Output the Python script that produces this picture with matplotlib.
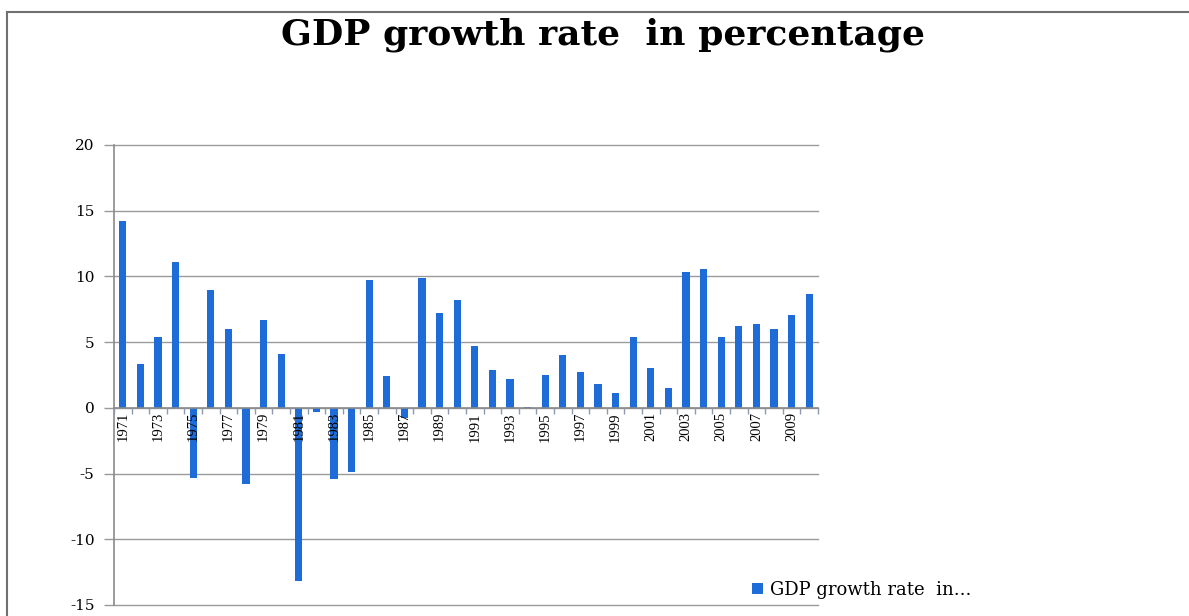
import numpy as np
import matplotlib
matplotlib.use('Agg')
import matplotlib.pyplot as plt
from matplotlib.lines import Line2D

# Dados. ======================================================================

years = list(range(1971, 2011))
growth = [14.2, 3.3, 5.4, 11.1, -5.3, 9.0, 6.0, -5.8, 6.7, 4.1,
          -13.2, -0.3, -5.4, -4.9, 9.7, 2.4, -0.8, 9.9, 7.2, 8.2,
          4.7, 2.9, 2.2, 0.1, 2.5, 4.0, 2.7, 1.8, 1.1, 5.4,
          3.0, 1.5, 10.3, 10.6, 5.4, 6.2, 6.4, 6.0, 7.1, 8.7]
yTicks = [-15, -10, -5, 0, 5, 10, 15, 20]
title = 'GDP growth rate  in percentage'
legendLabel = 'GDP growth rate  in...'

barColor = '#1d6cd8'
gridColor = '#9a9a9a'

# Figura. =====================================================================

W, H = 1189, 616
fig = plt.figure(figsize=(W / 100, H / 100), dpi=100)
fig.set_facecolor('w')

ax = fig.add_axes([114 / W, 1 - 605 / H, (818 - 114) / W, (605 - 145) / H])

x = np.arange(len(years))
bars = ax.bar(x, growth, width=0.42, color=barColor, zorder=3)

ax.set_xlim(-0.5, len(years) - 0.5)
ax.set_ylim(-15, 20)

# Eixo y e linhas de grade.
ax.set_yticks(yTicks)
ax.set_yticklabels([str(v) for v in yTicks], family='DejaVu Serif', fontsize=11)
ax.yaxis.grid(True, color=gridColor, linewidth=1)
for g in ax.yaxis.get_gridlines():
    g.set_clip_on(False)
ax.tick_params(axis='y', length=7, width=1, color=gridColor, pad=7)

for s in ['top', 'right']:
    ax.spines[s].set_visible(False)
ax.spines['left'].set_color('#8a8a8a')
ax.spines['left'].set_linewidth(1.2)
ax.spines['bottom'].set_position(('data', 0))
ax.spines['bottom'].set_color('#8a8a8a')
ax.spines['bottom'].set_linewidth(1.2)
ax.spines['bottom'].set_zorder(4)

# Eixo x: rótulos a cada dois anos, marcas entre categorias.
ax.set_xticks(x[::2])
ax.set_xticklabels([str(y) for y in years[::2]], rotation=90,
                   family='Liberation Serif', fontsize=10.5, va='top')
ax.set_xticks(np.arange(len(years) + 1) - 0.5, minor=True)
ax.tick_params(axis='x', which='major', length=0, pad=3)
ax.tick_params(axis='x', which='minor', length=4, width=1,
               color='#8a9ab0', direction='out')
ax.xaxis.set_zorder(4)

# Título e legenda.
fig.text(0.507, 1 - 35 / H, title, ha='center', va='center',
         family='DejaVu Serif', fontweight='bold', fontsize=26)

ax.legend([bars], [legendLabel], loc='center left', frameon=False,
          bbox_to_anchor=(736 / W, 1 - 590 / H), bbox_transform=fig.transFigure,
          prop={'family': 'DejaVu Serif', 'size': 13},
          handlelength=0.6, handleheight=0.6, handletextpad=0.4)

# Borda do gráfico (recortada).
fig.add_artist(Line2D([7 / W, 1], [1 - 12 / H, 1 - 12 / H], color='#707070',
                      linewidth=1.5, transform=fig.transFigure))
fig.add_artist(Line2D([7 / W, 7 / W], [0, 1 - 12 / H], color='#707070',
                      linewidth=1.5, transform=fig.transFigure))

plt.savefig('out.png', dpi=100)
